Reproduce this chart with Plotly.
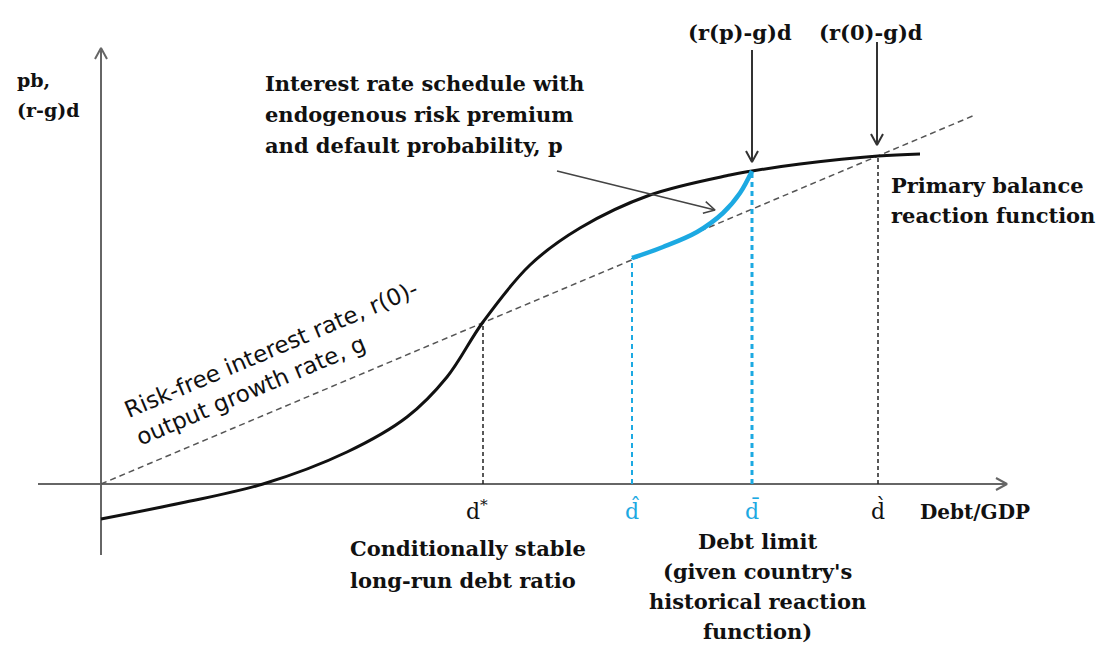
import plotly.graph_objects as go

# ---------------- data (conceptual units) ----------------
# primary balance reaction function (S-shaped)
rf_debt = [0, 80, 162, 246, 306, 346, 382, 429, 479, 549, 629, 651, 699, 777, 819]
rf_pb = [-35, -19, 0, 32, 67, 107, 162, 219, 256, 289, 309, 313, 320, 328, 330]

# risk-free interest rate line (r(0)-g)d
riskfree_debt = [0, 874]
riskfree_val = [0, 369]

# interest schedule with endogenous risk premium (blue)
sched_debt = [531, 562, 596, 622, 639, 651]
sched_val = [226, 237, 252, 271, 291, 313]

# key debt levels and heights of their guide lines
key_names = ["d*", "d_hat", "d_bar", "d_grave"]
key_debt = [382, 531, 651, 777]
key_height = [162, 226, 313, 328]
key_labels = ["d<sup>*</sup>", "d\u0302", "d\u0304", "d\u0300"]

# ---------------- figure ----------------
W, H = 1099, 646
X_RANGE = [-101, 998]
Y_RANGE = [-162, 484]

BLUE = "#1CA9E2"
SERIF = "DejaVu Serif"
SANS = "DejaVu Sans"

fig = go.Figure()


def line(xs, ys, color, width, dash=None, shape="linear"):
    fig.add_trace(go.Scatter(x=xs, y=ys, mode="lines",
                             line=dict(color=color, width=width, dash=dash, shape=shape),
                             hoverinfo="skip", showlegend=False))


def arrow(x0, y0, x1, y1, color, width, head=11, half=6):
    line([x0, x1], [y0, y1], color, width)
    dx, dy = x1 - x0, y1 - y0
    n = (dx * dx + dy * dy) ** 0.5
    ux, uy = dx / n, dy / n
    px, py = -uy, ux
    line([x1 - head * ux + half * px, x1, x1 - head * ux - half * px],
         [y1 - head * uy + half * py, y1, y1 - head * uy - half * py], color, width)


# axes
arrow(0, -71, 0, 436, "#666666", 2)
arrow(-63, 0, 906, 0, "#666666", 2)

# risk-free line
line(riskfree_debt, riskfree_val, "#555555", 1.5, dash="6px,4px")

# vertical guides
guide_style = {
    "d*": ("#222222", 1.5, "4px,3px"),
    "d_hat": (BLUE, 2, "5px,4px"),
    "d_bar": (BLUE, 3, "5px,4px"),
    "d_grave": ("#222222", 1.5, "4px,3px"),
}
for nm, xd, hh in zip(key_names, key_debt, key_height):
    c, w, d = guide_style[nm]
    line([xd, xd], [0, hh], c, w, dash=d)

# reaction function
line(rf_debt, rf_pb, "#111111", 3, shape="spline")
# blue schedule
line(sched_debt, sched_val, BLUE, 4.5, shape="spline")

# pointer arrows
arrow(651, 434, 651, 322, "#333333", 2)
arrow(776, 442, 776, 339, "#333333", 2)
arrow(456, 313, 614, 274, "#444444", 1.6)


def text_lines(lines, x, y0, step, anchor="left", size=21, color="#111111",
               family=SERIF, weight="bold"):
    for i, t in enumerate(lines):
        fig.add_annotation(x=x, y=y0 - i * step, text=t, showarrow=False,
                           xanchor=anchor, yanchor="middle",
                           font=dict(family=family, size=size, color=color, weight=weight))


text_lines(["pb,", "(r-g)d"], -86, 404, 30, size=19)
text_lines(["Interest rate schedule with", "endogenous risk premium",
            "and default probability, p"], 162, 401, 31)
text_lines(["(r(p)-g)d"], 639, 452, 0, anchor="center", size=21)
text_lines(["(r(0)-g)d"], 770, 452, 0, anchor="center", size=21)
text_lines(["Primary balance", "reaction function"], 788, 299, 30)
text_lines(["Conditionally stable", "long-run debt ratio"], 247, -64, 32)
text_lines(["Debt limit", "(given country's", "historical reaction", "function)"],
           656, -57, 30, anchor="center")
text_lines(["Debt/GDP"], 817, -28, 0, size=20)

label_colors = ["#111111", BLUE, BLUE, "#111111"]
for xd, lab, col in zip(key_debt, key_labels, label_colors):
    fig.add_annotation(x=xd - 6 if lab.startswith("d<sup>") else xd, y=-26, text=lab,
                       showarrow=False, xanchor="center", yanchor="middle",
                       font=dict(family=SERIF, size=22, color=col))

fig.add_annotation(x=176, y=121, text="Risk-free interest rate, r(0)-<br>output growth rate, g",
                   showarrow=False, textangle=-23, align="left",
                   xanchor="center", yanchor="middle",
                   font=dict(family=SANS, size=23, color="#111111"))

fig.update_layout(
    width=W, height=H,
    margin=dict(l=0, r=0, t=0, b=0),
    paper_bgcolor="white", plot_bgcolor="white",
    xaxis=dict(range=X_RANGE, visible=False, fixedrange=True),
    yaxis=dict(range=Y_RANGE, visible=False, fixedrange=True),
    showlegend=False,
)

fig.write_html("out.html", config={"displayModeBar": False},
               post_script="document.body.style.margin='0';document.body.style.overflow='hidden';")
